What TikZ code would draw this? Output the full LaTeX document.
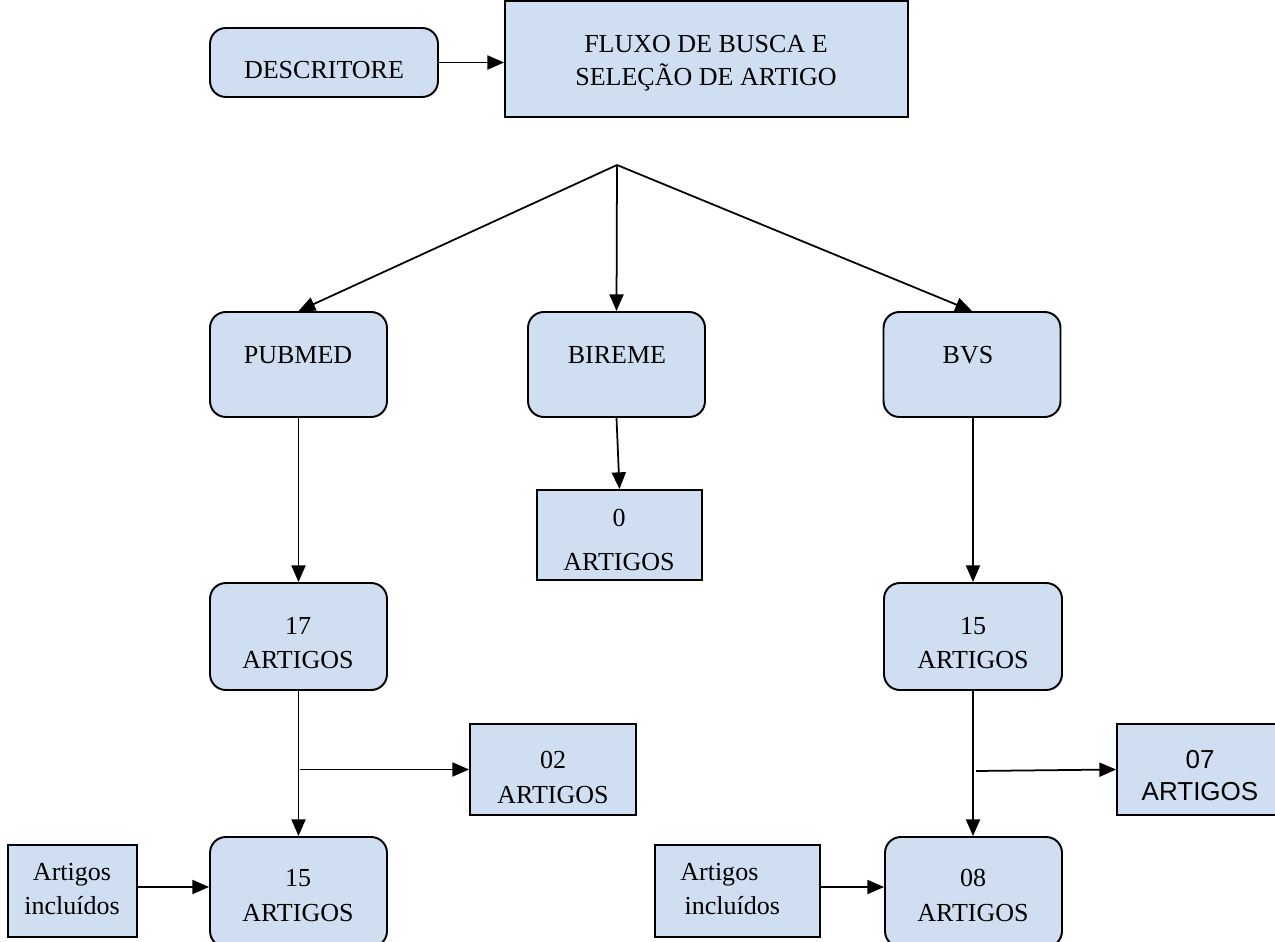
\documentclass[tikz,border=0pt]{standalone}
\usepackage{fontspec}
\setmainfont{Liberation Serif}
\newfontfamily\arialfont{Liberation Sans}
\usetikzlibrary{arrows.meta}
\definecolor{boxblue}{RGB}{207,223,241}
\tikzset{
  rbox/.style={draw=black, line width=1.1pt, fill=boxblue, rounded corners=9pt, inner sep=0pt},
  sbox/.style={draw=black, line width=1.1pt, fill=boxblue, inner sep=0pt},
  txt/.style={inner sep=0pt, align=center, font=\fontsize{14.8}{19.5}\selectfont},
  arr/.style={line width=1pt, -{Triangle[length=9.5pt,width=8pt]}}
}
\begin{document}
\begin{tikzpicture}[x=0.02cm,y=-0.02cm]
\useasboundingbox (0,0) rectangle (1275,942);
\clip (0,0) rectangle (1275,942);
% boxes
\node[rbox, minimum width=4.56cm, minimum height=1.38cm] (desc) at (324,62.5) {};
\node[sbox, minimum width=8.06cm, minimum height=2.32cm] (fluxo) at (706.5,59) {};
\node[rbox, minimum width=3.54cm, minimum height=2.1cm] (pubmed) at (298.5,364.5) {};
\node[rbox, minimum width=3.54cm, minimum height=2.1cm] (bireme) at (616.5,364.5) {};
\node[rbox, minimum width=3.54cm, minimum height=2.1cm] (bvs) at (972,364.5) {};
\node[sbox, minimum width=3.3cm, minimum height=1.8cm] (zero) at (619.5,535) {};
\node[rbox, minimum width=3.54cm, minimum height=2.14cm] (a17) at (298.5,636.5) {};
\node[rbox, minimum width=3.56cm, minimum height=2.14cm] (b15) at (973,636.5) {};
\node[sbox, minimum width=3.32cm, minimum height=1.82cm] (a02) at (553,769.5) {};
\node[sbox, minimum width=3.3cm, minimum height=1.82cm] (a07) at (1199.5,769.5) {};
\node[rbox, minimum width=3.54cm, minimum height=2.2cm] (a15) at (298.5,892) {};
\node[rbox, minimum width=3.54cm, minimum height=2.2cm] (a08) at (973.5,892) {};
\node[sbox, minimum width=2.58cm, minimum height=1.84cm] (inclL) at (72.5,891) {};
\node[sbox, minimum width=3.3cm, minimum height=1.84cm] (inclR) at (737.5,891) {};
% texts
\node[txt] (desc-t) at (324,70) {DESCRITORE};
\node[txt, font=\fontsize{14.8}{18.7}\selectfont] (fluxo-t) at (706,63.5) {FLUXO DE BUSCA E\\SELEÇÃO DE ARTIGO};
\node[txt] (pubmed-t) at (298,355) {PUBMED};
\node[txt] (bireme-t) at (617,355) {BIREME};
\node[txt] (bvs-t) at (968,355) {BVS};
\node[txt, font=\fontsize{14.8}{25.5}\selectfont] (zero-t) at (619,540) {0\\ARTIGOS};
\node[txt] (a17-t) at (298,643) {17\\ARTIGOS};
\node[txt] (b15-t) at (973,643) {15\\ARTIGOS};
\node[txt] (a02-t) at (553,777.5) {02\\ARTIGOS};
\node[txt, font=\arialfont\fontsize{14.8}{18.2}\selectfont] (a07-t) at (1200,776) {07\\ARTIGOS};
\node[txt] (a15-t) at (298,895.5) {15\\ARTIGOS};
\node[txt] (a08-t) at (973,895.5) {08\\ARTIGOS};
\node[txt] (inclL-t) at (72,889) {Artigos\\incluídos};
\node[txt, align=left, anchor=west] (inclR-t) at (680,889) {Artigos\\ \,incluídos};
% connectors
\coordinate (split) at (617,165);
\coordinate (pb) at (300,769.5);
\coordinate (bb) at (976,771);
\draw[arr] (desc.east) -- (desc.east -| fluxo.west);
\draw[arr] (split) -- (pubmed.north);
\draw[arr] (split) -- (bireme.north);
\draw[arr] (split) -- (bvs.north);
\draw[arr] (bireme.south) -- (zero.north);
\draw[arr] (pubmed.south) -- (a17.north);
\draw[arr] (bvs.south -| b15.north) -- (b15.north);
\draw[arr] (a17.south) -- (a15.north);
\draw[arr] (b15.south) -- (a08.north -| b15.south);
\draw[arr] (pb) -- (a02.west);
\draw[arr] (bb) -- (a07.west);
\draw[arr] (inclL.east |- 0,887) -- (a15.west |- 0,887);
\draw[arr] (inclR.east |- 0,887) -- (a08.west |- 0,887);
\end{tikzpicture}
\end{document}
